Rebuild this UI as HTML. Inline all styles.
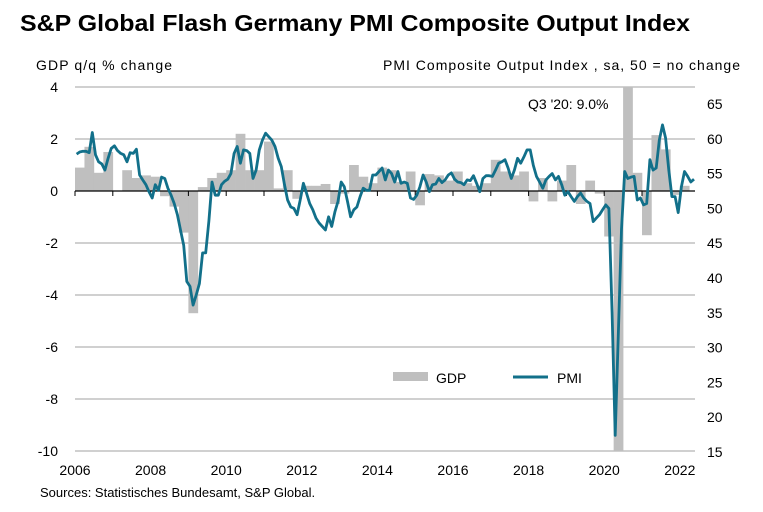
<!DOCTYPE html>
<html><head><meta charset="utf-8"><style>
body{margin:0;background:#fff;width:763px;height:507px;overflow:hidden;font-family:"Liberation Sans",Arial,sans-serif}
svg text{font-family:"Liberation Sans",Arial,sans-serif}
</style></head><body>
<svg id="chart" width="763" height="507" xmlns="http://www.w3.org/2000/svg">
<text x="20" y="31" font-size="23" font-weight="bold" fill="#000" textLength="670" lengthAdjust="spacingAndGlyphs">S&amp;P Global Flash Germany PMI Composite Output Index</text>
<text x="36" y="70" font-size="14" fill="#000" textLength="136">GDP q/q % change</text>
<text x="383" y="70" font-size="14" fill="#000" textLength="357">PMI Composite Output Index , sa, 50 = no change</text>
<text x="40" y="497" font-size="13" fill="#000">Sources: Statistisches Bundesamt, S&amp;P Global.</text>
<g id="grid"></g><g id="bars"></g><g id="axis"></g><g id="line"></g><g id="labels"></g>
<text x="528" y="109" font-size="14" fill="#000">Q3 '20: 9.0%</text>
<g>
<rect x="393" y="372" width="35" height="9" fill="#bfbfbf"/>
<text x="436" y="383" font-size="14">GDP</text>
<line x1="513" y1="377" x2="548" y2="377" stroke="#12708a" stroke-width="3"/>
<text x="557" y="383" font-size="14">PMI</text>
</g>
</svg>
<script>
const leftTicks=[4,2,0,-2,-4,-6,-8,-10];
const rightTicks=[65,60,55,50,45,40,35,30,25,20,15];
const yearLabels=[2006,2008,2010,2012,2014,2016,2018,2020,2022];
const gdp=[0.9,1.7,0.7,1.5,0.0,0.8,0.5,0.6,0.55,-0.2,-0.6,-1.6,-4.7,0.15,0.5,0.7,0.8,2.2,0.8,0.8,1.9,0.1,0.8,-0.3,
0.2,0.2,0.27,-0.5,-0.1,1.0,0.55,0.3,0.9,0.8,0.35,0.75,-0.55,0.65,0.6,0.4,0.75,0.3,0.2,0.3,1.2,0.75,0.6,0.75,
-0.4,0.5,-0.4,0.4,1.0,-0.5,0.4,-0.1,-1.75,-10,9.0,0.7,-1.7,2.15,1.6,-0.15,0.2];
const pmi=[57.8,58.1,58.2,58.2,58.0,60.9,57.7,56.7,56.4,55.5,57.2,58.6,59.0,58.3,57.9,57.7,56.7,58.0,57.9,58.5,54.8,54.1,53.4,52.4,51.5,53.4,52.6,54.5,54.3,52.9,51.9,50.7,49.1,46.9,44.7,39.5,38.8,36.1,37.6,39.2,43.6,43.6,48.2,53.8,51.9,51.9,53.4,53.9,54.2,55.0,
57.9,58.9,56.5,58.4,58.3,57.9,54.3,55.5,58.4,59.8,60.8,60.3,59.8,58.9,57.2,56.0,53.4,51.2,50.2,50.0,49.1,51.2,53.6,52.2,50.7,49.8,48.6,47.9,47.4,46.9,48.8,47.4,49.5,51.0,53.8,53.1,51.0,48.8,49.8,50.2,51.7,52.9,52.6,52.6,54.8,54.8,55.3,55.8,54.1,55.5,55.0,53.8,
55.3,53.6,53.8,53.6,51.5,51.3,51.9,53.1,54.8,53.8,52.4,53.4,53.5,54.3,53.7,54.1,54.8,55.1,54.2,53.8,53.7,53.4,54.1,54.0,54.7,53.6,52.4,54.3,54.7,54.7,54.6,55.5,56.5,56.7,57.0,55.8,54.3,55.5,57.2,56.5,57.4,58.4,58.4,56.2,54.6,53.8,52.9,54.1,54.6,55.0,
54.1,54.6,53.4,51.9,52.4,51.7,51.0,51.7,52.2,51.5,51.0,50.7,48.1,48.6,49.1,49.8,50.5,50.0,35.0,17.4,32.3,47.0,55.3,54.3,54.5,54.6,51.2,51.5,50.5,50.7,57.0,55.5,55.8,59.8,62.0,60.1,55.5,51.7,51.7,49.4,53.1,55.3,54.6,53.8,54.2];
const X0=75,X1=695,YR=37.8;
const yL=v=>191-v*26;
const yR=v=>452-(v-15)*6.96;
const xT=t=>X0+(t-2006)*YR;
const NS='http://www.w3.org/2000/svg';
function mk(p,tag,a){const e=document.createElementNS(NS,tag);for(const k in a)e.setAttribute(k,a[k]);p.appendChild(e);return e;}
const grid=document.getElementById('grid'),labels=document.getElementById('labels');
leftTicks.forEach(v=>{
 if(v!==0){const g=mk(grid,'line',{x1:X0,x2:X1,y1:yL(v),y2:yL(v),stroke:'#c0c0c0','stroke-width':1.6});
 
 }
 const t=mk(labels,'text',{x:58,y:yL(v)+5,'font-size':14,'text-anchor':'end'});t.textContent=v;
 
 
});
rightTicks.forEach(v=>{
 const t=mk(labels,'text',{x:707,y:yR(v)+5,'font-size':14});t.textContent=v;
 
 
});
yearLabels.forEach(yv=>{
 const t=mk(labels,'text',{x:xT(yv),y:475,'font-size':14,'text-anchor':'middle'});t.textContent=yv;
 
 
});
const bars=document.getElementById('bars');
const qw=YR/4;
gdp.forEach((v,i)=>{
 const vc=Math.max(-10,Math.min(4,v));
 const y1=yL(Math.max(vc,0)),y2=yL(Math.min(vc,0));
 const r=mk(bars,'rect',{x:X0+i*qw,y:y1,width:qw+0.3,height:Math.max(y2-y1,0.01),fill:'#bfbfbf'});
 
 
});
const axis=document.getElementById('axis');
const al=mk(axis,'line',{x1:X0,x2:X1,y1:191,y2:191,stroke:'#000','stroke-width':1.2});


for(let yv=2006;yv<=2022;yv++){
 const tk=mk(axis,'line',{x1:xT(yv),x2:xT(yv),y1:191,y2:196,stroke:'#000','stroke-width':1});
 
 
}
const mw=YR/12;
const pts=pmi.map((v,i)=>(X0+i*mw+mw/2).toFixed(1)+','+yR(v).toFixed(1)).join(' ');
const pl=mk(document.getElementById('line'),'polyline',{points:pts,fill:'none',stroke:'#12708a','stroke-width':2.8,'stroke-linejoin':'round'});


</script>
</body></html>
